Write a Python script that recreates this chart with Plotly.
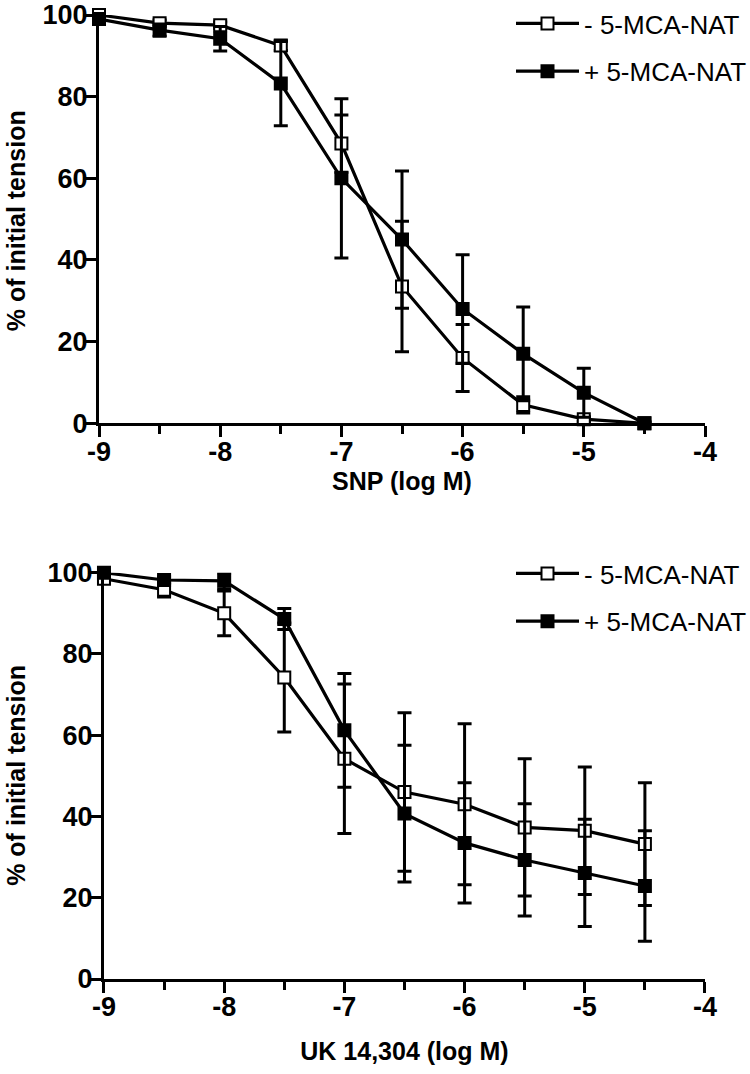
import plotly.graph_objects as go

# ---- data ----
log_conc = [-9, -8.5, -8, -7.5, -7, -6.5, -6, -5.5, -5, -4.5]

snp_minus = [100, 98, 97.5, 92.5, 68.5, 33.5, 16, 4.5, 1, 0]
snp_minus_err = [0.5, 0.8, 0.8, 1.2, 7, 16, 8.2, 2, 0.6, 0.3]
snp_plus = [99, 96.3, 94.2, 83.2, 60, 45, 28, 17, 7.5, 0]
snp_plus_err = [1, 1.5, 3, 10.3, 19.5, 16.8, 13.3, 11.5, 6, 0.3]

uk_minus = [98.5, 95.8, 90, 74.2, 54.2, 46, 43, 37.3, 36.5, 33.2]
uk_minus_err = [1, 1.8, 5.5, 13.4, 18.4, 19.5, 19.8, 16.9, 15.7, 15.1]
uk_plus = [100, 98.2, 98, 88.6, 61.2, 40.7, 33.5, 29.3, 26.1, 22.9]
uk_plus_err = [0.5, 0.8, 2, 2.6, 14, 16.8, 14.8, 13.8, 13.2, 13.6]

x_tickvals = [-9, -8, -7, -6, -5, -4]
x_ticktext = ["-9", "-8", "-7", "-6", "-5", "-4"]
y_tickvals = [0, 20, 40, 60, 80, 100]

series_names = ["- 5-MCA-NAT", "+ 5-MCA-NAT"]
x_titles = ["SNP (log M)", "UK 14,304 (log M)"]
y_title = "% of initial tension"

FONT = "Liberation Sans, Arial, sans-serif"

W, H = 750, 1074
L, R, T, B = 99, 45, 15, 95

fig = go.Figure()


def add_series(xa, ya, ys, errs, filled, name, legend):
    fig.add_trace(go.Scatter(
        x=log_conc, y=ys, name=name, xaxis=xa, yaxis=ya, legend=legend,
        legendgroup=name + legend,
        mode="lines+markers",
        line=dict(color="black", width=3.2),
        marker=dict(symbol="square", size=12,
                    color="black" if filled else "white",
                    line=dict(color="black", width=2)),
        error_y=dict(type="data", array=errs, visible=True,
                     color="black", thickness=3, width=7),
        cliponaxis=False,
    ))


add_series("x", "y", snp_minus, snp_minus_err, False, series_names[0], "legend")
add_series("x", "y", snp_plus, snp_plus_err, True, series_names[1], "legend")
add_series("x2", "y2", uk_minus, uk_minus_err, False, series_names[0], "legend2")
add_series("x2", "y2", uk_plus, uk_plus_err, True, series_names[1], "legend2")

tickfont = dict(family=FONT, size=27, color="black", weight="bold")
titlefont = dict(family=FONT, size=25, color="black", weight="bold")

def xaxis(domain, anchor, title, standoff):
    return dict(domain=domain, anchor=anchor, range=[-9, -4], automargin=False,
                showline=True, linewidth=3, linecolor="black",
                ticks="outside", ticklen=11, tickwidth=3, tickcolor="black",
                tickvals=x_tickvals, ticktext=x_ticktext, tickfont=tickfont,
                ticklabelstandoff=-9, ticklabeloverflow="allow",
                minor=dict(tickvals=[-8.5, -7.5, -6.5, -5.5, -4.5], ticks="outside",
                           ticklen=8, tickwidth=3, tickcolor="black"),
                showgrid=False, zeroline=False,
                title=dict(text=title, font=titlefont, standoff=standoff))

def yaxis(domain, anchor):
    return dict(domain=domain, anchor=anchor, range=[0, 100], automargin=False,
                showline=True, linewidth=3, linecolor="black",
                ticks="outside", ticklen=13, tickwidth=3, tickcolor="black",
                tickvals=y_tickvals, tickfont=tickfont,
                ticklabelstandoff=-10, ticklabeloverflow="allow",
                showgrid=False, zeroline=False)

legend_common = dict(font=dict(family=FONT, size=26, color="black"),
                     bgcolor="rgba(0,0,0,0)", borderwidth=0,
                     xanchor="left", yanchor="top", itemwidth=63,
                     tracegroupgap=11, xref="container", yref="container")

plot_w = W - L - R
ytitle_x = (16 - L) / plot_w

fig.update_layout(
    width=W, height=H,
    paper_bgcolor="white", plot_bgcolor="white",
    margin=dict(l=L, r=R, t=T, b=B, autoexpand=False),
    showlegend=True,
    xaxis=xaxis([0, 1], "y", x_titles[0], 3),
    yaxis=yaxis([0.5765, 1], "x"),
    xaxis2=xaxis([0.0082, 1], "y2", x_titles[1], 22),
    yaxis2=yaxis([0, 0.4215], "x2"),
    legend=dict(x=511 / W, y=1.0, **legend_common),
    legend2=dict(x=511 / W, y=1 - 550 / H, **legend_common),
    annotations=[
        dict(text=y_title, xref="paper", yref="y domain", x=ytitle_x, y=0.495,
             xanchor="center", yanchor="middle", textangle=-90, showarrow=False,
             font=dict(family=FONT, size=25, color="black", weight="bold")),
        dict(text=y_title, xref="paper", yref="y2 domain", x=ytitle_x, y=0.5,
             xanchor="center", yanchor="middle", textangle=-90, showarrow=False,
             font=dict(family=FONT, size=25, color="black", weight="bold")),
    ],
)

# remove the page's default 8px body margin so the figure fills the window
fig.write_html("out.html", config={"displayModeBar": False},
               post_script="document.body.style.margin='0';")
